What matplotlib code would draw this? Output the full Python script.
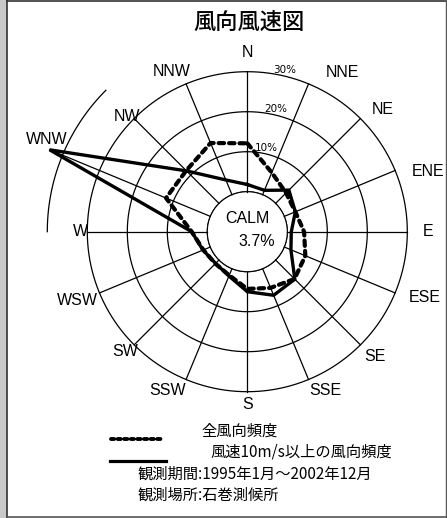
import matplotlib
matplotlib.use('Agg')

import matplotlib.pyplot as plt
from matplotlib.patches import Rectangle
from matplotlib.lines import Line2D
import numpy as np

# 16 compass directions, clockwise from north
directions = ['N', 'NNE', 'NE', 'ENE', 'E', 'ESE', 'SE', 'SSE',
              'S', 'SSW', 'SW', 'WSW', 'W', 'WNW', 'NW', 'NNW']
# frequency (%) of all winds
all_freq = [12.1, 6.0, 3.7, 3.0, 4.2, 5.7, 6.7, 5.2,
            4.3, 1.8, 1.3, 1.9, 3.9, 12.0, 11.6, 14.0]
# frequency (%) of winds 10 m/s and over
strong_freq = [1.8, 1.2, 4.7, 3.0, 1.0, 1.8, 6.8, 7.2,
               5.0, 2.0, 1.2, 2.0, 3.9, 43.5, 11.5, 4.0]
calm = 3.7
rings = [10, 20, 30]
ring_labels = ['10%', '20%', '30%']

# label placement (compass deg, radius in % units)
label_pos = [(0, 34.9), (30.9, 36.5), (48.1, 35.6), (71.7, 37.6), (90, 35.2),
             (110.2, 37.3), (134.2, 34.6), (153.9, 34.1), (180, 33.1),
             (206.6, 34.3), (225.5, 32.9), (248.1, 35.9), (270, 31.8),
             (294.6, 45.1), (313.9, 31.7), (334.8, 34.2)]

W, H = 447, 518
fig = plt.figure(figsize=(W / 100, H / 100), dpi=100)
fig.patch.set_facecolor('white')

def fx(x):
    return x / W

def fy(y):
    return 1 - y / H

# frame
fig.patches.append(Rectangle((0, 0), fx(6.5), 1, transform=fig.transFigure,
                             facecolor='#c9c9c9', edgecolor='none'))
fig.add_artist(Line2D([fx(6.5), fx(6.5)], [0, 1], color='#333333', lw=1.2))
fig.add_artist(Line2D([fx(6.5), fx(445.5)], [fy(1), fy(1)], color='#333333', lw=1.2))
fig.add_artist(Line2D([fx(6.5), fx(445.5)], [fy(516.5), fy(516.5)], color='#555555', lw=1.2))
fig.add_artist(Line2D([fx(445.5), fx(445.5)], [fy(1), fy(516.5)], color='#555555', lw=1.0))

# polar axes: centre (247.3, 231.7) px, radius 200 px = 40% + calm offset
cx, cy, R = 247.3, 231.7, 200
ax = fig.add_axes([fx(cx - R), fy(cy + R), 2 * R / W, 2 * R / H], projection='polar')
ax.set_theta_zero_location('N')
ax.set_theta_direction(-1)
ax.set_ylim(0, 40)
ax.set_rorigin(-10)
ax.grid(False)
ax.set_xticks([])
ax.set_yticks([])
for s in ax.spines.values():
    s.set_visible(False)
ax.patch.set_visible(False)

th = np.deg2rad(np.arange(16) * 22.5)
full = np.linspace(0, 2 * np.pi, 721)

# calm circle and rings
ax.plot(full, np.zeros_like(full), color='black', lw=0.9)
for r in rings:
    ax.plot(full, np.full_like(full, r), color='black', lw=0.9)
arc = np.deg2rad(np.linspace(270, 315, 100))
ax.plot(arc, np.full_like(arc, 40), color='black', lw=0.9, clip_on=False)

# spokes
for i, t in enumerate(th):
    rmax = max(30, strong_freq[i]) if directions[i] == 'WNW' else 30
    ax.plot([t, t], [0, rmax], color='black', lw=0.9, clip_on=False)

# ring labels
for r, lab in zip(rings, ring_labels):
    ax.text(np.deg2rad(13), r + 1.6, lab, ha='center', va='center', fontsize=7.5,
            family=['Liberation Sans Narrow', 'DejaVu Sans'])

# direction labels
for d, (ang, rr) in zip(directions, label_pos):
    ax.text(np.deg2rad(ang), rr, d, ha='center', va='center', fontsize=11.5,
            family='Liberation Sans', clip_on=False)

# data polygons
tc = np.append(th, th[0])
ax.plot(tc, np.append(all_freq, all_freq[0]), color='black', lw=3.0,
        dashes=(1.3, 1.2), dash_capstyle='round', clip_on=False)
ax.plot(tc, np.append(strong_freq, strong_freq[0]), color='black', lw=2.4,
        solid_joinstyle='miter', clip_on=False)

# calm text
fig.text(fx(247), fy(219), 'CALM', ha='center', va='center', fontsize=11.5,
         family='Liberation Sans')
fig.text(fx(257), fy(241), f'{calm}%', ha='center', va='center', fontsize=11.5,
         family='Liberation Sans')

# title
cjk = ['Noto Sans CJK JP', 'DejaVu Sans']
fig.text(fx(249), fy(22), '風向風速図', ha='center', va='center', fontsize=16,
         family=cjk, fontweight='medium')

# legend
fig.add_artist(Line2D([fx(111), fx(162)], [fy(439), fy(439)], color='black', lw=2.8,
                      dashes=(0.8, 0.9), dash_capstyle='round'))
fig.add_artist(Line2D([fx(110), fx(165.5)], [fy(461), fy(461)], color='black', lw=2.3))
fig.text(fx(201.5), fy(431), '全風向頻度', ha='left', va='center', fontsize=11, family=cjk)
fig.text(fx(210), fy(452), '風速10m/s以上の風向頻度', ha='left', va='center', fontsize=11, family=cjk)
fig.text(fx(138), fy(474), '観測期間:1995年1月～2002年12月', ha='left', va='center', fontsize=11, family=cjk)
fig.text(fx(138), fy(495), '観測場所:石巻測候所', ha='left', va='center', fontsize=11, family=cjk)

fig.savefig('out.png', dpi=100)
